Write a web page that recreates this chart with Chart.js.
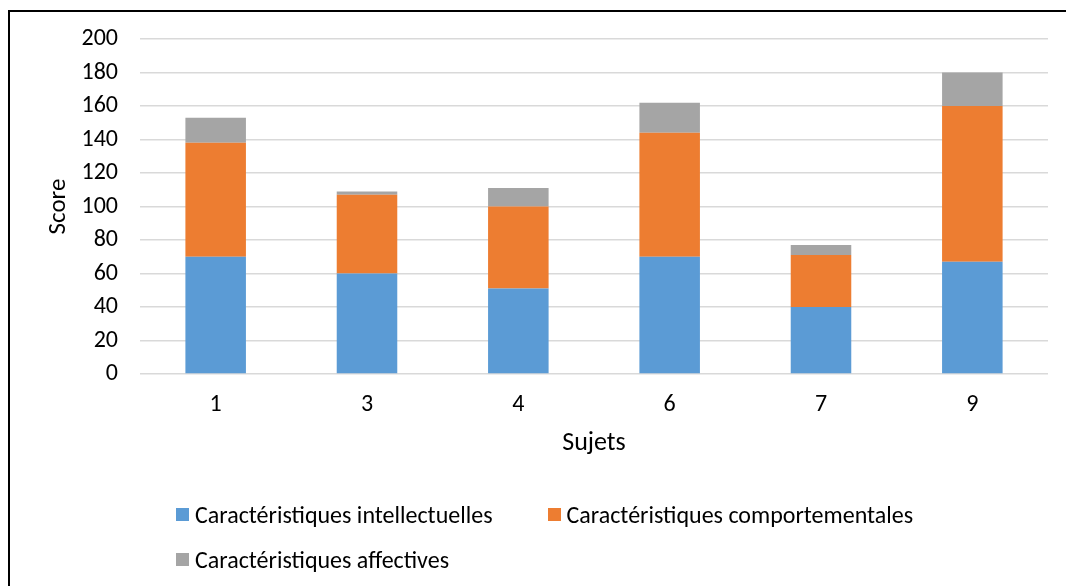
<!DOCTYPE html>
<html>
<head>
<meta charset="utf-8">
<script src="https://cdn.jsdelivr.net/npm/chart.js@4"></script>
<style>
    body { margin: 0; width: 1066px; height: 586px; overflow: hidden; background: #fff; position: relative; font-family: Carlito, Calibri, Lato, sans-serif; }
    #frame { position: absolute; left: 8px; top: 10px; width: 1200px; height: 700px; border-left: 2px solid #000; border-top: 2px solid #000; pointer-events: none; }
    #chart { position: absolute; left: 0; top: 0; }
    #legend { position: absolute; left: 176px; top: 492px; width: 820px; display: flex; flex-wrap: wrap; font-size: 24px; color: #000; }
    .item { display: flex; align-items: center; height: 45px; margin-right: 55px; }
    .box { width: 13px; height: 13px; margin-right: 6px; }
</style>
</head>
<body>
<div id="frame"></div>
<canvas id="chart" width="1066" height="586"></canvas>
<div id="legend"></div>
<script>
const sujets = ["1", "3", "4", "6", "7", "9"];
const seriesNames = [
    "Caractéristiques intellectuelles",
    "Caractéristiques comportementales",
    "Caractéristiques affectives",
];
const intellectuelles = [70, 60, 51, 70, 40, 67];
const comportementales = [68, 47, 49, 74, 31, 93];
const affectives = [15, 2, 11, 18, 6, 20];
const colors = ["#5B9BD5", "#ED7D31", "#A5A5A5"];

const fontFamily = "Carlito, Calibri, Lato, sans-serif";

function start() {
    const values = [intellectuelles, comportementales, affectives];
    const data = {
        labels: sujets,
        datasets: values.map((v, i) => ({
            label: seriesNames[i],
            data: v,
            backgroundColor: colors[i],
            borderWidth: 0,
            categoryPercentage: 1,
            barPercentage: 0.4,
        })),
    };
    const config = {
        type: "bar",
        data: data,
        options: {
            responsive: false,
            animation: false,
            layout: {
                padding: { top: 39, right: 18, bottom: 127, left: 0 },
            },
            plugins: {
                legend: { display: false },
                tooltip: { enabled: false },
            },
            scales: {
                x: {
                    stacked: true,
                    grid: { display: false, drawTicks: false, tickLength: 0 },
                    border: { display: false },
                    ticks: {
                        color: "#000",
                        padding: 17,
                        font: { family: fontFamily, size: 24 },
                    },
                    title: {
                        display: true,
                        text: "Sujets",
                        color: "#000",
                        padding: 0,
                        font: { family: fontFamily, size: 26 },
                    },
                    afterFit: (scale) => {
                        scale.height = 85;
                    },
                },
                y: {
                    stacked: true,
                    min: 0,
                    max: 200,
                    grid: {
                        color: "#d9d9d9",
                        lineWidth: 1.5,
                        drawTicks: false,
                        tickLength: 0,
                    },
                    border: { display: false },
                    ticks: {
                        stepSize: 20,
                        color: "#000",
                        padding: 22,
                        font: { family: fontFamily, size: 24 },
                    },
                    title: {
                        display: true,
                        text: "Score",
                        color: "#000",
                        padding: { top: 44, bottom: 0 },
                        font: { family: fontFamily, size: 25 },
                    },
                    afterFit: (scale) => {
                        scale.width = 140;
                    },
                },
            },
        },
    };
    new Chart(document.querySelector("#chart"), config);

    const legend = document.querySelector("#legend");
    seriesNames.forEach((name, i) => {
        const item = document.createElement("div");
        item.className = "item";
        const box = document.createElement("span");
        box.className = "box";
        box.style.background = colors[i];
        const text = document.createElement("span");
        text.textContent = name;
        item.appendChild(box);
        item.appendChild(text);
        legend.appendChild(item);
    });
}

start();
</script>
</body>
</html>
